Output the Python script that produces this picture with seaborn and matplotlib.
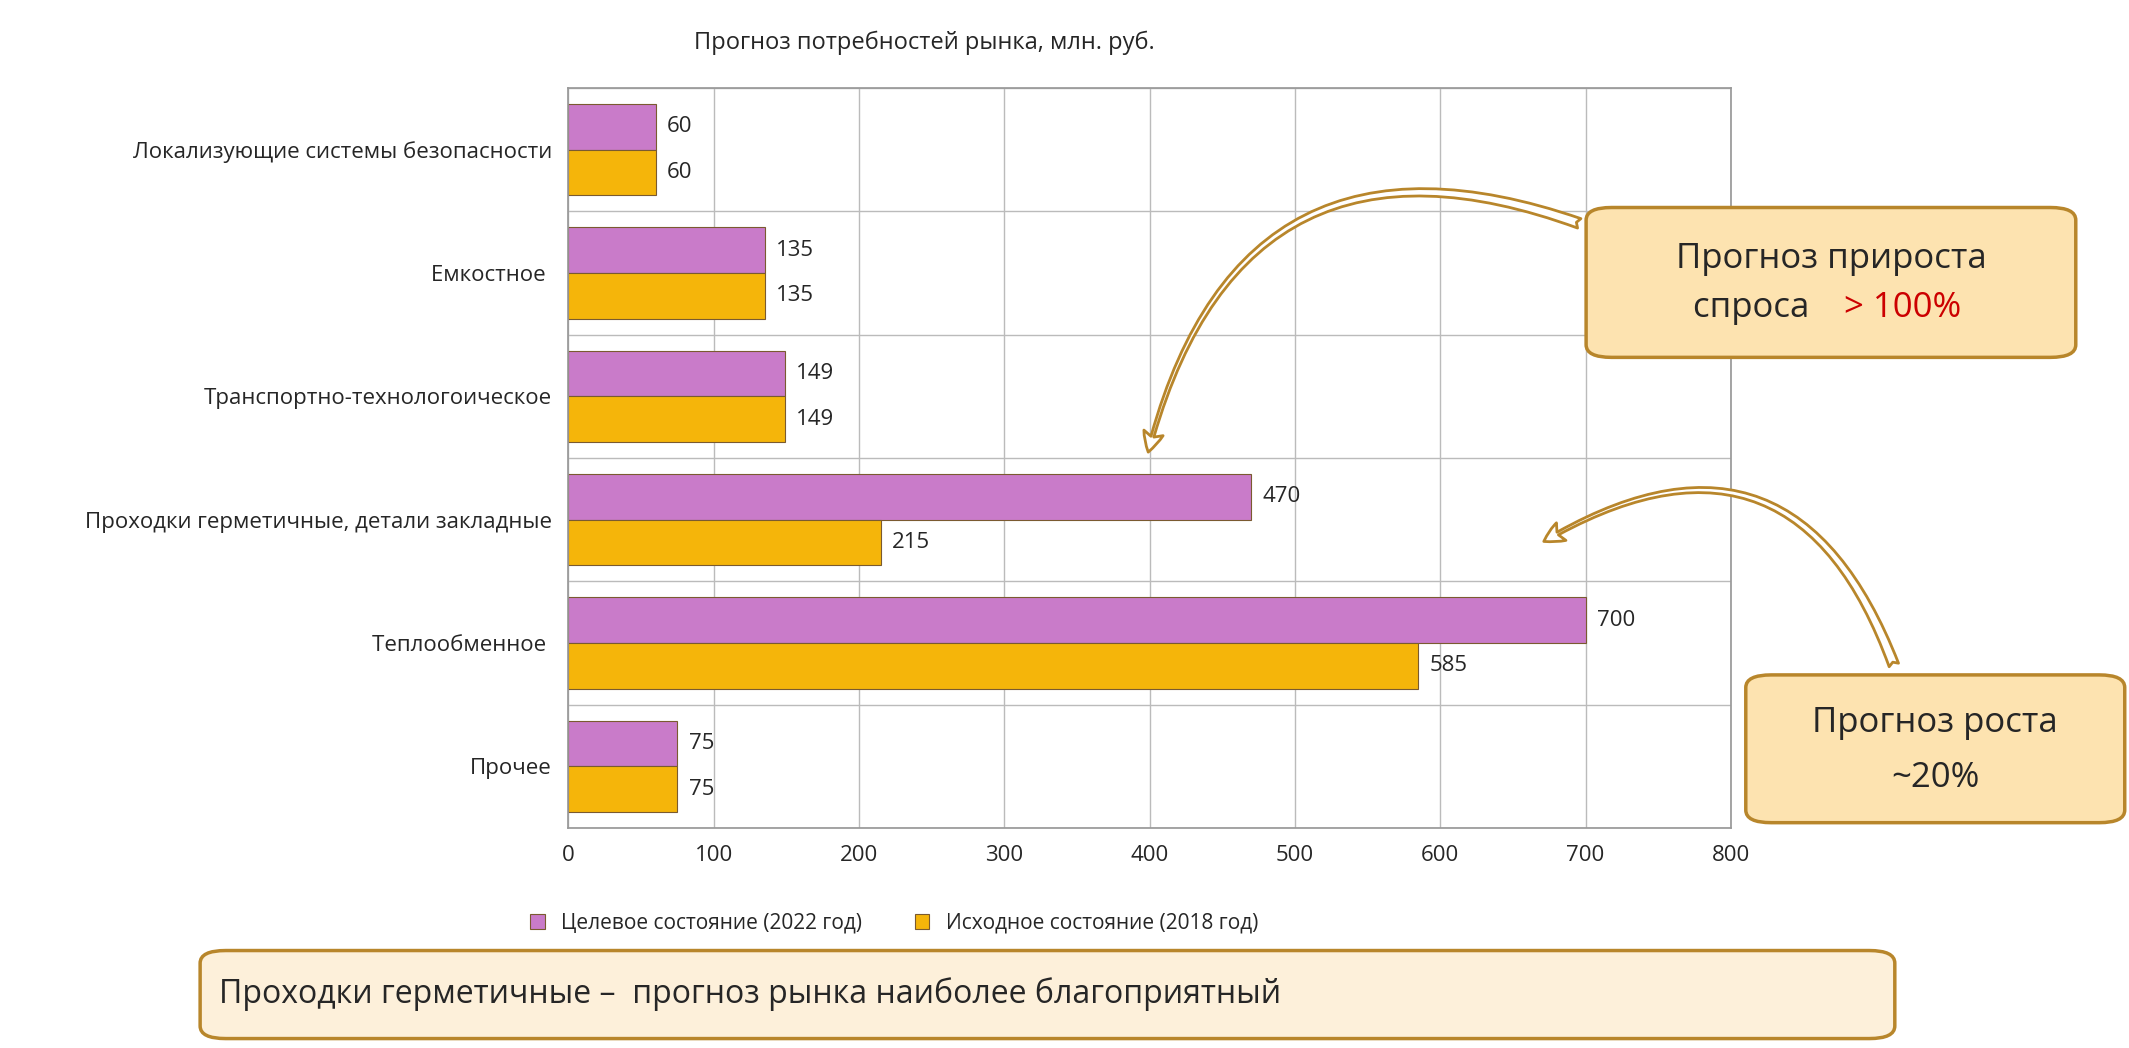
import matplotlib
matplotlib.use("Agg")
import matplotlib.pyplot as plt
import seaborn as sns
import pandas as pd
import numpy as np
from matplotlib.patches import FancyBboxPatch

categories = ["Локализующие системы безопасности", "Емкостное ", "Транспортно-технологоическое",
              "Проходки герметичные, детали закладные", "Теплообменное ", "Прочее"]
target = [60, 135, 149, 470, 700, 75]
initial = [60, 135, 149, 215, 585, 75]
series = ["Целевое состояние (2022 год)", "Исходное состояние (2018 год)"]

df = pd.DataFrame({"cat": categories * 2, "val": target + initial,
                   "series": [series[0]] * 6 + [series[1]] * 6})

sns.set_theme(style="white")
plt.rcParams['font.family'] = ['Open Sans', 'DejaVu Sans']

fig = plt.figure(figsize=(21.29, 10.48), dpi=100)
ax = fig.add_axes([0.267, 0.21, 0.546, 0.706])
pal = {series[0]: "#C97BC9", series[1]: "#F5B50A"}
sns.barplot(data=df, y="cat", x="val", hue="series", order=categories, hue_order=series,
            palette=pal, orient="h", width=0.74, ax=ax, edgecolor="#7a5a30", linewidth=0.8,
            saturation=1, legend=True)
for c in ax.containers:
    ax.bar_label(c, padding=8, fontsize=16)
ax.set_xlim(0, 800)
ax.set_ylim(5.5, -0.5)
ax.set_xticks(range(0, 801, 100))
ax.set_yticks(np.arange(-0.5, 5.6, 0.5), minor=True)
ax.grid(True, which="minor", axis="y", color="#bbbbbb", linewidth=1)
ax.grid(True, which="major", axis="x", color="#bbbbbb", linewidth=1)
ax.tick_params(axis="both", which="major", labelsize=16, length=0, pad=12)
ax.tick_params(axis="y", which="minor", length=0)
ax.set_xlabel("")
ax.set_ylabel("")
for s in ax.spines.values():
    s.set_color("#999999")
ax.legend(loc="center", bbox_to_anchor=(0.42, 0.119), bbox_transform=fig.transFigure,
          ncol=2, frameon=False, fontsize=15, handlelength=0.7, handleheight=0.7, columnspacing=2.5)

fig.text(0.434, 0.959, "Прогноз потребностей рынка, млн. руб.", ha="center", va="center", fontsize=17)

edge = "#B8862B"
def box(x0, y0, x1, y1, fc):
    p = FancyBboxPatch((x0, y0), x1 - x0, y1 - y0, boxstyle="round,pad=0,rounding_size=0.012",
                       transform=fig.transFigure, fc=fc, ec=edge, lw=2.5, zorder=5)
    fig.patches.append(p)

box(0.745, 0.659, 0.975, 0.802, "#FDE3B0")
fig.text(0.86, 0.753, "Прогноз прироста", ha="center", va="center", fontsize=25, zorder=6)
fig.text(0.795, 0.706, "спроса ", ha="left", va="center", fontsize=25, zorder=6)
fig.text(0.866, 0.706, "> 100%", ha="left", va="center", fontsize=25, color="#CC0000", zorder=6)

box(0.82, 0.215, 0.998, 0.356, "#FDE3B0")
fig.text(0.909, 0.31, "Прогноз роста", ha="center", va="center", fontsize=25, zorder=6)
fig.text(0.909, 0.258, "~20%", ha="center", va="center", fontsize=25, zorder=6)

box(0.094, 0.009, 0.89, 0.093, "#FDF0DA")
fig.text(0.103, 0.051, "Проходки герметичные –  прогноз рынка наиболее благоприятный",
         ha="left", va="center", fontsize=23, zorder=6)

fig.patches  # arrows
ax.annotate("", xy=(0.539, 0.566), xycoords="figure fraction", xytext=(0.743, 0.786),
            textcoords="figure fraction",
            arrowprops=dict(arrowstyle="fancy,head_length=1.2,head_width=1.2,tail_width=0.6",
                            connectionstyle="arc3,rad=0.55", fc="white", ec=edge, lw=2))
ax.annotate("", xy=(0.724, 0.482), xycoords="figure fraction", xytext=(0.89, 0.363),
            textcoords="figure fraction",
            arrowprops=dict(arrowstyle="fancy,head_length=1.2,head_width=1.2,tail_width=0.6",
                            connectionstyle="arc3,rad=0.6", fc="white", ec=edge, lw=2))

fig.savefig("out.png", dpi=100)
